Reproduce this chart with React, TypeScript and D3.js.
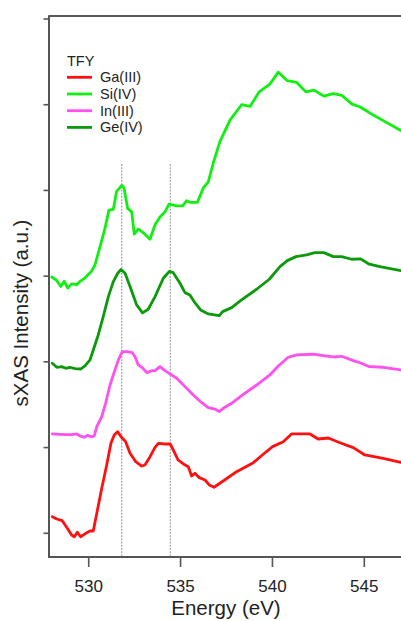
import React from "react";
import * as d3 from "d3";

// ---- data (energy in eV, intensity in a.u. with vertical offsets as plotted) ----
const gaEnergy = [528.02, 528.26, 528.56, 528.80, 529.07, 529.22, 529.38, 529.56, 529.84, 530.07, 530.25, 530.44, 530.71, 530.98, 531.21, 531.39, 531.57, 531.76, 532.01, 532.25, 532.56, 532.88, 533.06, 533.34, 533.61, 533.79, 534.15, 534.44, 534.60, 534.87, 535.15, 535.42, 535.60, 535.78, 536.02, 536.33, 536.56, 536.82, 537.32, 538.05, 538.96, 539.50, 540.01, 540.59, 541.04, 542.04, 542.49, 543.04, 543.67, 544.40, 545.03, 546.03, 546.99, 547.5];
const gaIntensity = [0.194, 0.167, 0.147, 0.070, -0.020, -0.040, 0.012, -0.040, 0.0, 0.027, 0.027, 0.233, 0.525, 0.797, 1.050, 1.147, 1.186, 1.127, 1.069, 0.933, 0.835, 0.785, 0.797, 0.894, 1.003, 1.050, 1.042, 1.042, 0.972, 0.855, 0.809, 0.777, 0.669, 0.700, 0.649, 0.622, 0.564, 0.537, 0.610, 0.719, 0.824, 0.922, 1.011, 1.069, 1.159, 1.159, 1.100, 1.112, 1.057, 0.999, 0.914, 0.875, 0.828, 0.81];

const siEnergy = [527.99, 528.26, 528.48, 528.67, 528.86, 529.07, 529.35, 529.53, 529.80, 530.13, 530.34, 530.61, 530.89, 531.10, 531.34, 531.52, 531.80, 531.92, 532.12, 532.34, 532.48, 532.70, 533.06, 533.34, 533.61, 533.88, 534.15, 534.37, 534.79, 535.11, 535.33, 535.55, 535.91, 536.24, 536.51, 536.78, 537.14, 537.69, 538.32, 538.78, 539.28, 539.86, 540.32, 540.81, 541.32, 541.82, 542.26, 542.80, 543.31, 543.77, 544.31, 544.80, 545.40, 546.99, 547.5];
const siIntensity = [2.99, 2.95, 2.88, 2.94, 2.86, 2.91, 2.90, 2.94, 2.98, 3.05, 3.13, 3.34, 3.56, 3.77, 3.78, 3.99, 4.06, 4.03, 3.79, 3.75, 3.49, 3.55, 3.49, 3.43, 3.60, 3.69, 3.75, 3.84, 3.82, 3.82, 3.88, 3.86, 3.86, 4.03, 4.10, 4.32, 4.57, 4.82, 5.00, 4.98, 5.15, 5.24, 5.38, 5.28, 5.26, 5.15, 5.17, 5.10, 5.13, 5.11, 5.01, 4.97, 4.89, 4.70, 4.64];

const inEnergy = [528.02, 528.44, 528.80, 529.07, 529.35, 529.53, 529.76, 529.95, 530.11, 530.30, 530.44, 530.71, 530.92, 531.16, 531.43, 531.65, 531.83, 532.07, 532.37, 532.52, 532.70, 532.92, 533.16, 533.43, 533.61, 533.88, 534.15, 534.42, 534.79, 535.24, 535.69, 536.15, 536.51, 536.87, 537.11, 537.32, 537.78, 538.32, 539.14, 539.86, 540.32, 540.86, 541.32, 542.22, 542.86, 543.31, 543.77, 544.40, 544.85, 545.27, 546.03, 546.99, 547.5];
const inIntensity = [1.159, 1.155, 1.151, 1.151, 1.159, 1.135, 1.120, 1.144, 1.127, 1.135, 1.244, 1.361, 1.517, 1.730, 1.906, 2.042, 2.119, 2.119, 2.107, 2.061, 1.964, 1.932, 1.874, 1.897, 1.897, 1.944, 1.897, 1.859, 1.809, 1.711, 1.614, 1.524, 1.466, 1.450, 1.419, 1.459, 1.517, 1.606, 1.730, 1.847, 1.952, 2.054, 2.081, 2.089, 2.069, 2.057, 2.065, 2.014, 1.984, 1.944, 1.937, 1.906, 1.90];

const geEnergy = [528.02, 528.26, 528.53, 528.75, 528.98, 529.25, 529.58, 529.80, 530.07, 530.34, 530.52, 530.79, 531.07, 531.34, 531.58, 531.76, 531.98, 532.25, 532.61, 532.93, 533.24, 533.61, 534.06, 534.39, 534.60, 534.97, 535.24, 535.51, 535.78, 536.09, 536.51, 537.11, 537.29, 537.78, 538.32, 539.14, 539.83, 540.41, 540.81, 541.28, 541.86, 542.31, 542.80, 543.31, 543.77, 544.31, 544.80, 545.27, 545.85, 546.99, 547.5];
const geIntensity = [1.984, 1.937, 1.944, 1.925, 1.937, 1.921, 1.917, 1.952, 2.022, 2.197, 2.314, 2.527, 2.761, 2.936, 3.034, 3.078, 3.034, 2.878, 2.664, 2.571, 2.614, 2.761, 2.976, 3.055, 3.041, 2.917, 2.808, 2.781, 2.691, 2.606, 2.559, 2.539, 2.586, 2.633, 2.722, 2.847, 2.964, 3.111, 3.181, 3.228, 3.248, 3.274, 3.274, 3.228, 3.228, 3.197, 3.201, 3.139, 3.111, 3.064, 3.05];

const seriesNames = ["Ga(III)", "Si(IV)", "In(III)", "Ge(IV)"];
const seriesColors = ["#ff1010", "#10f010", "#ff50f0", "#0c9a0c"];
const seriesEnergies = [gaEnergy, siEnergy, inEnergy, geEnergy];
const seriesIntensities = [gaIntensity, siIntensity, inIntensity, geIntensity];

const xTicks = [530, 535, 540, 545];
const yTicks = [0, 1, 2, 3, 4, 5, 6];
const markerEnergies = [531.8, 534.44];
const legendTitle = "TFY";
const xLabel = "Energy (eV)";
const yLabel = "sXAS Intensity (a.u.)";

const W = 401;
const H = 621;
const FONT = "Liberation Sans, Arial, Helvetica, sans-serif";

export default function App() {
  const x = d3.scaleLinear().domain([530, 545]).range([88.7, 364.3]);
  const y = d3.scaleLinear().domain([0, 6]).range([533.3, 19.0]);
  const left = 49;
  const top = 16;
  const bottom = 557;
  const right = 430;

  const line = d3
    .line<[number, number]>()
    .x((d) => x(d[0]))
    .y((d) => y(d[1]))
    .curve(d3.curveLinear);

  const drawOrder = [2, 0, 3, 1];

  return (
    <div style={{ position: "absolute", left: 0, top: 0 }}>
      <svg width={W} height={H} style={{ display: "block", background: "#fff" }}>
        <defs>
          <clipPath id="plotClip">
            <rect x={left} y={top} width={right - left} height={bottom - top} />
          </clipPath>
        </defs>
        {/* marker dashed lines */}
        {markerEnergies.map((e, i) => (
          <line
            key={"m" + i}
            x1={x(e)}
            x2={x(e)}
            y1={164}
            y2={bottom}
            stroke="#777"
            strokeWidth={0.8}
            strokeDasharray="2,1.2"
          />
        ))}
        {/* series */}
        <g clipPath="url(#plotClip)">
          {drawOrder.map((i) => {
            const pts: [number, number][] = seriesEnergies[i].map((e, k) => [e, seriesIntensities[i][k]]);
            return (
              <path
                key={seriesNames[i]}
                d={line(pts) || ""}
                fill="none"
                stroke={seriesColors[i]}
                strokeWidth={2.8}
                strokeLinejoin="round"
                strokeLinecap="round"
              />
            );
          })}
        </g>
        {/* box */}
        <line x1={left} x2={right} y1={top} y2={top} stroke="#222" strokeWidth={1.4} />
        <line x1={left} x2={right} y1={bottom} y2={bottom} stroke="#555" strokeWidth={2} />
        <line x1={left} x2={left} y1={top - 0.7} y2={bottom + 1} stroke="#555" strokeWidth={2} />
        {/* y ticks */}
        {yTicks.map((t) => (
          <line key={"yt" + t} x1={left - 5.5} x2={left} y1={y(t)} y2={y(t)} stroke="#555" strokeWidth={1.6} />
        ))}
        {/* x ticks */}
        {xTicks.map((t) => (
          <g key={"xt" + t}>
            <line x1={x(t)} x2={x(t)} y1={bottom} y2={bottom + 10} stroke="#555" strokeWidth={1.6} />
            <text
              x={x(t)}
              y={592}
              textAnchor="middle"
              fontFamily={FONT}
              fontSize={17}
              fill="#222"
            >
              {t}
            </text>
          </g>
        ))}
        {/* axis titles */}
        <text x={226} y={615} textAnchor="middle" fontFamily={FONT} fontSize={20.5} fill="#222">
          {xLabel}
        </text>
        <text
          transform={`translate(28,313) rotate(-90)`}
          textAnchor="middle"
          fontFamily={FONT}
          fontSize={20.5}
          fill="#222"
        >
          {yLabel}
        </text>
        {/* legend */}
        <text x={67} y={66} fontFamily={FONT} fontSize={14.5} fill="#222">
          {legendTitle}
        </text>
        {seriesNames.map((n, i) => {
          const ly = 77.3 + i * 16.7;
          return (
            <g key={"lg" + n}>
              <line x1={67} x2={92} y1={ly} y2={ly} stroke={seriesColors[i]} strokeWidth={2.8} />
              <text x={100} y={ly + 5} fontFamily={FONT} fontSize={14.5} fill="#222">
                {n}
              </text>
            </g>
          );
        })}
      </svg>
    </div>
  );
}
